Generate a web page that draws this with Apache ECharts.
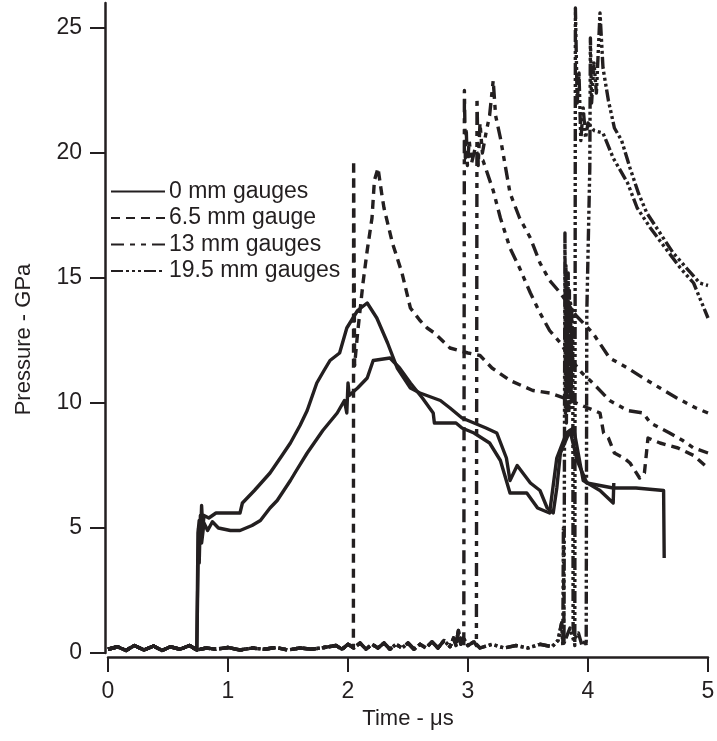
<!DOCTYPE html>
<html><head><meta charset="utf-8">
<script src="https://cdn.jsdelivr.net/npm/echarts@6/dist/echarts.min.js"></script>
<style>html,body{margin:0;padding:0;background:#fff}#c{width:717px;height:741px}</style>
</head><body><div id="c"></div>
<script>
// ---- tick labels / legend ----
const xTicks = [0, 1, 2, 3, 4, 5];
const yTicks = [0, 5, 10, 15, 20, 25];
const legendNames = ['0 mm gauges', '6.5 mm gauge', '13 mm gauges', '19.5 mm gauges'];

// ---- pre-arrival baseline noise (time µs, pressure GPa) ----
const baseline = [[0,0.15],[0.08,0.25],[0.15,0.1],[0.22,0.3],[0.3,0.12],[0.38,0.28],[0.45,0.1],[0.52,0.25],[0.6,0.15],[0.68,0.3],[0.74,0.12],[0.82,0.2],[0.9,0.15],[1.0,0.22],[1.1,0.12],[1.2,0.2],[1.3,0.15],[1.4,0.22],[1.5,0.12],[1.6,0.2],[1.7,0.15],[1.8,0.22],[1.9,0.3],[1.95,0.15],[2.0,0.35],[2.05,0.2],[2.1,0.4],[2.15,0.15],[2.2,0.35],[2.25,0.2],[2.3,0.4],[2.35,0.15],[2.4,0.35],[2.45,0.2],[2.5,0.4],[2.55,0.15],[2.6,0.35],[2.65,0.2],[2.7,0.45],[2.75,0.2],[2.8,0.5],[2.85,0.25],[2.88,0.6],[2.9,0.3],[2.92,0.9],[2.94,0.35],[2.96,0.6],[3.0,0.3],[3.05,0.45],[3.1,0.2],[3.2,0.35],[3.3,0.2],[3.4,0.3],[3.5,0.2],[3.6,0.35],[3.7,0.25],[3.75,0.5],[3.78,1.2],[3.8,0.4],[3.85,1.0],[3.88,0.5],[3.92,0.8],[3.95,0.3],[3.98,0.5]];

// ---- 0 mm gauges (two traces) ----
const gauge0a = [[0.75,4.8],[0.76,5.3],[0.77,4.5],[0.78,5.9],[0.79,5.0],[0.8,5.5],[0.84,5.4],[0.9,5.6],[0.96,5.6],[1.1,5.6],[1.12,6.0],[1.22,6.5],[1.35,7.2],[1.45,7.9],[1.52,8.4],[1.6,9.1],[1.66,9.7],[1.74,10.8],[1.8,11.3],[1.85,11.7],[1.93,12.0],[1.99,13.0],[2.08,13.7],[2.16,14.0],[2.24,13.4],[2.33,12.4],[2.41,11.4],[2.52,10.6],[2.6,10.4],[2.77,10.1],[2.85,9.8],[2.95,9.4],[3.05,9.2],[3.15,9.0],[3.24,8.8],[3.32,7.8],[3.35,6.9],[3.41,7.5],[3.52,6.8],[3.6,6.5],[3.66,5.8],[3.71,5.6],[3.74,6.6],[3.77,8.0],[3.85,8.9],[3.91,7.7],[3.99,6.8],[4.1,6.7],[4.21,6.6],[4.4,6.6],[4.63,6.5],[4.635,3.8]];
const gauge0b = [[0.755,5.0],[0.76,3.6],[0.77,5.5],[0.78,4.4],[0.8,5.2],[0.83,4.9],[0.87,5.25],[0.92,5.0],[1.02,4.9],[1.1,4.9],[1.2,5.1],[1.27,5.3],[1.35,5.8],[1.41,6.1],[1.52,6.9],[1.57,7.3],[1.66,8.0],[1.79,8.9],[1.91,9.6],[1.97,10.1],[1.99,9.6],[2.0,10.8],[2.01,10.3],[2.08,10.6],[2.16,11.0],[2.21,11.7],[2.35,11.8],[2.43,11.4],[2.52,10.8],[2.62,10.2],[2.71,9.6],[2.72,9.2],[2.9,9.2],[2.95,9.0],[3.05,8.8],[3.18,8.4],[3.27,7.7],[3.35,6.4],[3.49,6.4],[3.58,5.8],[3.68,5.6],[3.74,7.8],[3.82,8.8],[3.88,9.0],[3.96,6.9],[4.1,6.5],[4.21,6.0],[4.215,6.8]];

// ---- 6.5 mm gauge ----
const gauge65 = [[2.045,0.2],[2.047,19.7],[2.055,11.5],[2.08,12.8],[2.125,14.8],[2.16,16.1],[2.2,17.4],[2.22,18.9],[2.25,19.4],[2.28,18.4],[2.3,17.8],[2.37,16.4],[2.45,15.2],[2.52,13.8],[2.6,13.3],[2.66,13.0],[2.72,12.8],[2.85,12.2],[3.0,12.0],[3.1,11.9],[3.2,11.4],[3.35,10.9],[3.54,10.5],[3.68,10.4],[3.8,10.2],[3.9,10.0],[4.0,9.8],[4.1,9.6],[4.13,8.8],[4.17,8.6],[4.22,8.0],[4.3,7.8],[4.35,7.6],[4.43,7.0],[4.47,7.2],[4.5,8.6],[4.6,8.4],[4.75,8.2],[4.88,7.9],[5.0,7.4]];

// ---- 13 mm gauges (two traces) ----
const gauge13a = [[2.965,0.3],[2.97,22.5],[2.978,19.8],[2.985,21.0],[2.995,19.5],[3.01,20.5],[3.03,19.6],[3.06,20.2],[3.09,19.8],[3.125,19.7],[3.21,18.5],[3.27,17.4],[3.35,16.2],[3.43,15.4],[3.52,14.4],[3.6,13.6],[3.68,12.9],[3.77,12.4],[3.85,11.8],[3.95,11.2],[4.04,10.8],[4.18,10.1],[4.33,9.7],[4.46,9.6],[4.52,9.2],[4.6,9.0],[4.68,8.8],[4.79,8.5],[4.88,8.2],[5.0,8.0]];
const gauge13b = [[3.07,0.3],[3.075,22.2],[3.085,19.5],[3.1,21.2],[3.12,20.0],[3.15,20.8],[3.18,21.5],[3.21,22.9],[3.23,21.5],[3.27,20.6],[3.35,18.4],[3.43,17.4],[3.52,16.6],[3.6,15.6],[3.68,14.9],[3.77,14.4],[3.9,13.5],[4.04,12.8],[4.18,11.8],[4.33,11.4],[4.46,11.0],[4.6,10.6],[4.74,10.2],[4.9,9.8],[5.0,9.6]];

// ---- 19.5 mm gauges (two traces) ----
const gauge195a = [[3.79,0.3],[3.795,5.0],[3.8,0.5],[3.808,16.8],[3.812,9.5],[3.816,15.5],[3.82,9.2],[3.825,14.8],[3.83,10.5],[3.835,15.2],[3.84,9.6],[3.845,14.5],[3.85,9.8],[3.855,14.0],[3.86,10.2],[3.865,13.8],[3.87,11.0],[3.873,13.0],[3.876,1.0],[3.885,0.6],[3.89,0.3],[3.895,25.8],[3.91,22.0],[3.925,23.2],[3.94,20.5],[3.96,21.8],[3.98,20.6],[4.0,21.2],[4.05,20.9],[4.125,20.8],[4.21,19.8],[4.33,18.8],[4.41,17.8],[4.52,17.0],[4.66,16.1],[4.77,15.4],[4.88,14.8],[5.0,13.4]];
const gauge195b = [[3.985,0.3],[3.99,13.6],[4.015,19.4],[4.02,24.6],[4.03,22.0],[4.05,23.6],[4.07,22.4],[4.085,24.0],[4.1,25.6],[4.125,23.4],[4.17,22.1],[4.22,21.0],[4.28,20.5],[4.35,19.4],[4.42,18.4],[4.49,17.6],[4.6,16.8],[4.71,16.0],[4.82,15.4],[4.93,14.8],[5.0,14.7]];

function withBaseline(until, pts) {
  return baseline.filter(p => p[0] < until).concat(pts);
}

const INK = '#231f20';
const FONT = 'Liberation Sans';
const styles = {
  '0 mm gauges': 'solid',
  '6.5 mm gauge': [9, 6],
  '13 mm gauges': [13, 6, 5, 6, 5, 6],
  '19.5 mm gauges': [12, 3, 3, 3, 3, 3, 3, 3]
};
function mk(name, data) {
  return {
    type: 'line', name: name, data: data,
    showSymbol: false, symbol: 'none', animation: false,
    lineStyle: { color: INK, width: 3.4, type: styles[name], join: 'round' },
    itemStyle: { color: INK },
    emphasis: { disabled: true }
  };
}

const series = [
  mk(legendNames[0], withBaseline(0.75, gauge0a)),
  mk(legendNames[0], withBaseline(0.75, gauge0b)),
  mk(legendNames[1], withBaseline(2.045, gauge65)),
  mk(legendNames[2], withBaseline(2.965, gauge13a)),
  mk(legendNames[2], withBaseline(3.07, gauge13b)),
  mk(legendNames[3], withBaseline(3.79, gauge195a)),
  mk(legendNames[3], withBaseline(3.985, gauge195b))
];

const chart = echarts.init(document.getElementById('c'), null, { renderer: 'canvas' });
chart.setOption({
  animation: false,
  backgroundColor: '#ffffff',
  grid: { left: 108, right: 9, top: 3, bottom: 88, containLabel: false, outerBoundsMode: 'none' },
  legend: {
    data: legendNames, orient: 'vertical', left: 110, top: 180, padding: 0,
    itemWidth: 54, itemHeight: 14, itemGap: 3.5,
    itemStyle: { opacity: 0 },
    textStyle: { fontFamily: FONT, fontSize: 23, color: INK, lineHeight: 22, padding: [0, 0, 0, -1] },
    selectedMode: false
  },
  xAxis: {
    type: 'value', min: 0, max: 5, interval: 1, offset: 4,
    name: 'Time - \u03bcs', nameLocation: 'middle', nameGap: 51,
    nameTextStyle: { fontFamily: FONT, fontSize: 22, color: INK },
    axisLine: { show: true, onZero: false, lineStyle: { color: INK, width: 2.5 } },
    axisTick: { show: true, inside: false, length: 15, lineStyle: { color: INK, width: 2 }, customValues: xTicks },
    axisLabel: { fontFamily: FONT, fontSize: 23, color: INK, margin: 23, customValues: xTicks },
    splitLine: { show: false }
  },
  yAxis: {
    type: 'value', min: 0, max: 26, interval: 5, offset: 3,
    name: 'Pressure - GPa', nameLocation: 'middle', nameGap: 70,
    nameTextStyle: { fontFamily: FONT, fontSize: 22, color: INK, padding: [0, 23, 0, 0] },
    axisLine: { show: true, onZero: false, lineStyle: { color: INK, width: 2.5 } },
    axisTick: { show: true, inside: false, length: 15, lineStyle: { color: INK, width: 2 }, customValues: yTicks },
    axisLabel: { fontFamily: FONT, fontSize: 23, color: INK, margin: 23, customValues: yTicks },
    splitLine: { show: false }
  },
  series: series
});
</script></body></html>
